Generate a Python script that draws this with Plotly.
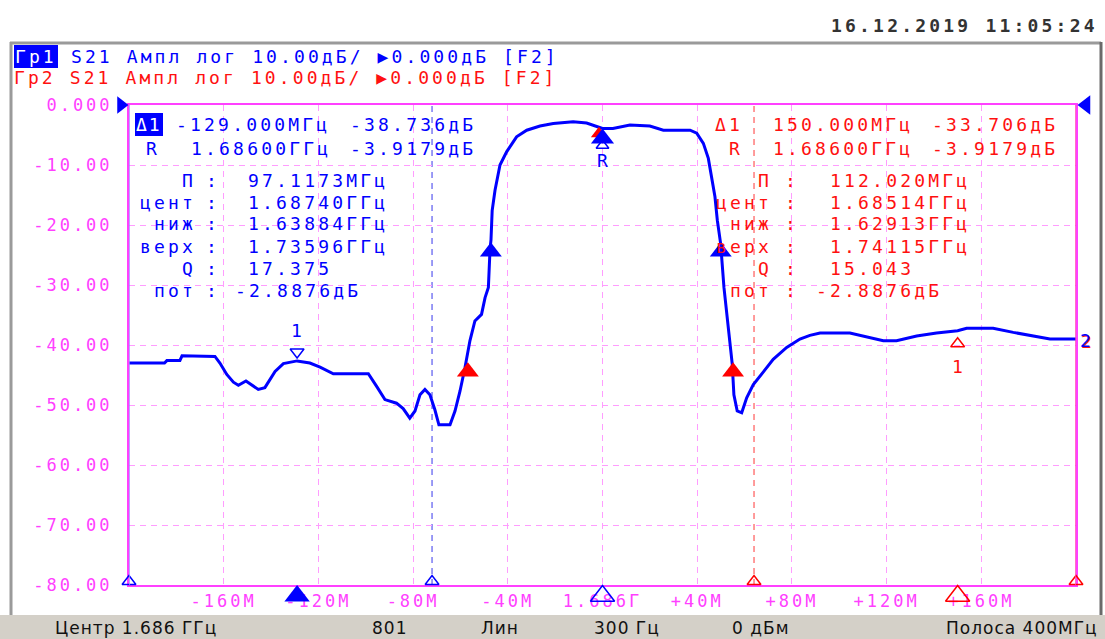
import plotly.graph_objects as go

# ---------------- data ----------------
freq_offset_mhz = [-200, -185, -184, -178.5, -177.6, -165.8, -163.7, -161.6, -158.7, -155.9,
                   -153.8, -150.6, -147.5, -145.4, -142.6, -140.4, -138.3, -134.8, -129.0, -123.6,
                   -119.3, -113.7, -98.9, -95.4, -91.9, -87.0, -84.2, -81.4, -79.2, -77.1,
                   -75.0, -72.9, -70.8, -69.1, -64.4, -62.3, -60.2, -58.1, -56.0, -53.9,
                   -51.1, -49.6, -48.2, -47.5, -47.1, -46.6, -45.4, -43.3, -40.5, -36.3,
                   -32.0, -26.4, -20.8, -12.4, -6.7, 0.0, 4.4, 11.6, 20.0, 25.7,
                   37.0, 39.8, 42.6, 44.7, 46.1, 47.5, 48.5, 49.9, 51.3, 53.2,
                   54.8, 55.5, 56.9, 58.8, 60.9, 63.7, 67.9, 72.1, 77.8, 83.4,
                   87.6, 91.9, 104.5, 111.6, 118.6, 124.2, 132.7, 141.1, 150.0, 153.8,
                   165.0, 173.5, 182.0, 189.0, 200.0]
s21_db = [-43.0, -43.0, -42.6, -42.6, -41.8, -41.8, -41.9, -43.0, -44.9, -46.2,
          -46.7, -46.0, -46.9, -47.4, -47.1, -45.7, -44.4, -43.1, -42.65, -43.0,
          -43.7, -44.8, -44.8, -46.9, -49.1, -49.7, -50.6, -52.2, -51.0, -48.3,
          -47.4, -48.3, -50.8, -53.3, -53.3, -51.0, -47.7, -43.8, -39.3, -36.0,
          -34.9, -32.1, -30.4, -24.0, -22.5, -17.6, -14.2, -10.0, -7.8, -5.3,
          -4.2, -3.5, -3.1, -2.8, -3.0, -3.92, -3.9, -3.35, -3.5, -4.2,
          -4.2, -4.7, -6.4, -8.9, -12.0, -15.3, -19.2, -23.1, -30.4, -37.1,
          -43.2, -48.3, -51.0, -51.3, -48.8, -46.6, -44.4, -42.4, -40.4, -39.0,
          -38.4, -38.0, -38.0, -38.6, -39.3, -39.3, -38.5, -38.0, -37.62, -37.2,
          -37.2, -37.9, -38.5, -39.0, -39.0]

x_tick_vals = [-160, -120, -80, -40, 0, 40, 80, 120, 160]
x_tick_text = ["-160M", "-120M", "-80M", "-40M", "1.686Г", "+40M", "+80M", "+120M", "+160M"]
y_tick_vals = [0, -10, -20, -30, -40, -50, -60, -70, -80]
y_tick_text = ["0.000", "-10.00", "-20.00", "-30.00", "-40.00", "-50.00", "-60.00", "-70.00", "-80.00"]

ref_mhz = 0.0
ref_db = -3.9179
ref_level_db = 0.0
blue_m1_mhz = -129.0
blue_m1_db = -3.9179 - 38.736
red_m1_mhz = 150.0
red_m1_db = -3.9179 - 33.706
blue_bw_mhz = [-47.16, 49.96]
blue_bw_db = -22.8876
red_bw_mhz = [-56.87, 55.15]
red_bw_db = -42.8876
blue_range_mhz = [-200, -72]
red_range_mhz = [64, 200]

header_1 = "S21 Ампл лог 10.00дБ/ ▶0.000дБ [F2]"
header_2 = "Гр2 S21 Ампл лог 10.00дБ/ ▶0.000дБ [F2]"
timestamp = "16.12.2019 11:05:24"
readout_labels = ["П", "цент", "ниж", "верх", "Q", "пот"]
blue_delta = ["-129.000МГц", "-38.736дБ"]
red_delta = ["150.000МГц", "-33.706дБ"]
ref_line = ["1.68600ГГц", "-3.9179дБ"]
blue_values = ["97.1173МГц", "1.68740ГГц", "1.63884ГГц", "1.73596ГГц", "17.375", "-2.8876дБ"]
red_values = ["112.020МГц", "1.68514ГГц", "1.62913ГГц", "1.74115ГГц", "15.043", "-2.8876дБ"]
status_items = ["Центр 1.686 ГГц", "801", "Лин", "300 Гц", "0 дБм", "Полоса 400МГц"]

# ---------------- geometry / style ----------------
W, H = 1105, 639
L, R, T, B = 129, 1076, 105, 585
MHZ_PX = (R - L) / 400.0
DB_PX = (B - T) / 80.0
BLUE = "#0000ff"
RED = "#ff1010"
MAG = "#ff40ff"
GRID = "#ff9cff"
MONO = "DejaVu Sans Mono"
SANS = "DejaVu Sans"


def px(x):
    return x / W


def py(y):
    return 1 - y / H


def sp(s, ls):
    return f'<span style="letter-spacing:{ls}px">{s}</span>'


annotations = []


def txt(x, y, s, color, anchor="left", size=18, ls=3.2, bg=None, family=MONO, bold=False, pad=0):
    t = sp(s, ls)
    if bold:
        t = "<b>" + t + "</b>"
    annotations.append(dict(x=px(x), y=py(y), xref="paper", yref="paper", text=t,
                            showarrow=False, xanchor=anchor, yanchor="middle",
                            font=dict(family=family, size=size, color=color),
                            bgcolor=bg, borderpad=pad, borderwidth=0))


fig = go.Figure()


def mk(x, y, symbol, size, color, filled=True, axes=("x", "y")):
    fig.add_trace(go.Scatter(
        x=x, y=y, mode="markers", xaxis=axes[0], yaxis=axes[1],
        marker=dict(symbol=symbol, size=size, color=color,
                    line=dict(width=0 if filled else 1.5, color=color)),
        showlegend=False, hoverinfo="skip", cliponaxis=False))


# main trace
fig.add_trace(go.Scatter(x=freq_offset_mhz, y=s21_db, mode="lines",
                         line=dict(color=BLUE, width=3), hoverinfo="skip", showlegend=False))


def tri_off(size):
    return (size / 2.0) / DB_PX


# bandwidth markers (apex on the trace)
mk(red_bw_mhz, [red_bw_db - tri_off(19)] * 2, "triangle-up", 19, "#ff0000")
mk(blue_bw_mhz, [blue_bw_db - tri_off(19)] * 2, "triangle-up", 19, BLUE)
# reference marker R
mk([ref_mhz - 1.5], [ref_db + 0.3 - tri_off(14)], "triangle-up", 14, "#ff0000")
mk([ref_mhz], [ref_db - tri_off(20)], "triangle-up", 20, BLUE)
mk([ref_mhz], [ref_db - 17 / DB_PX], "triangle-up-open", 11, BLUE, filled=False)
# marker 1 (blue) above trace, marker 1 (red) below trace
mk([blue_m1_mhz], [blue_m1_db + 9 / DB_PX], "triangle-down-open", 12, BLUE, filled=False)
mk([red_m1_mhz], [red_m1_db - 13 / DB_PX], "triangle-up-open", 12, "#ff0000", filled=False)
# search range ticks on the bottom line
mk(blue_range_mhz, [-80 + 3.5 / DB_PX] * 2, "triangle-up-open", 12, BLUE, filled=False)
mk(red_range_mhz, [-80 + 3.5 / DB_PX] * 2, "triangle-up-open", 12, "#ff0000", filled=False)

# overlay axes (same MHz / dB scale, extended over the whole figure) for indicators outside the grid
OV = ("x2", "y2")
mk([blue_m1_mhz], [-80 - 11 / DB_PX], "triangle-up", 22, BLUE, axes=OV)
mk([ref_mhz], [-80 - 11 / DB_PX], "triangle-up-open", 21, BLUE, filled=False, axes=OV)
mk([red_m1_mhz], [-80 - 11 / DB_PX], "triangle-up-open", 21, "#ff0000", filled=False, axes=OV)
mk([-200 - 8 / MHZ_PX], [ref_level_db], "triangle-right", 15, BLUE, axes=OV)
mk([200 + 10 / MHZ_PX], [ref_level_db], "triangle-left", 17, BLUE, axes=OV)

# ---------------- shapes ----------------
shapes = []
shapes.append(dict(type="rect", xref="paper", yref="paper", x0=px(0), x1=px(1105), y0=py(615), y1=py(640),
                   fillcolor="#d4d0c8", line=dict(width=0), layer="below"))
shapes.append(dict(type="line", xref="paper", yref="paper", x0=px(10), x1=px(1101), y0=py(43), y1=py(43),
                   line=dict(color="#9a9a9a", width=3)))
shapes.append(dict(type="line", xref="paper", yref="paper", x0=px(11), x1=px(11), y0=py(42), y1=py(615),
                   line=dict(color="#9a9a9a", width=3)))
shapes.append(dict(type="line", xref="paper", yref="paper", x0=px(1101), x1=px(1101), y0=py(42), y1=py(615),
                   line=dict(color="#6a6a6a", width=3)))
# search range lines
shapes.append(dict(type="line", xref="x", yref="y", x0=blue_range_mhz[1], x1=blue_range_mhz[1], y0=-80, y1=0,
                   line=dict(color="#5a5af0", width=1.2, dash="6px,5px"), layer="below"))
shapes.append(dict(type="line", xref="x", yref="y", x0=red_range_mhz[0], x1=red_range_mhz[0], y0=-80, y1=0,
                   line=dict(color="#ff5a5a", width=1.2, dash="6px,5px"), layer="below"))
shapes.append(dict(type="line", xref="x", yref="y", x0=blue_range_mhz[0], x1=blue_range_mhz[0], y0=-80, y1=0,
                   line=dict(color="#9c8cff", width=1.5), layer="above"))
shapes.append(dict(type="line", xref="x", yref="y", x0=red_range_mhz[1], x1=red_range_mhz[1], y0=-80, y1=0,
                   line=dict(color="#ff40b0", width=1.5), layer="above"))

# ---------------- texts ----------------
txt(1098, 25, timestamp, "#333333", anchor="right", size=18, ls=3.2, bold=True)
txt(14, 56, "Гр1", "#ffffff", bg=BLUE, ls=3.1, pad=1)
txt(71, 56, header_1, BLUE, ls=3.1)
txt(14, 78, header_2, RED, ls=3.1)

txt(135, 124, "Δ1", "#ffffff", bg=BLUE, ls=2.0, pad=1)
txt(176, 124, blue_delta[0], BLUE)
txt(350, 124, blue_delta[1], BLUE)
txt(146, 148, "R", BLUE)
txt(191, 148, ref_line[0], BLUE)
txt(350, 148, ref_line[1], BLUE)

txt(715, 124, "Δ1", RED)
txt(773, 124, red_delta[0], RED)
txt(932, 124, red_delta[1], RED)
txt(729, 148, "R", RED)
txt(773, 148, ref_line[0], RED)
txt(932, 148, ref_line[1], RED)

rows_y = [180, 202, 224, 246, 268, 290]
for lab, bv, rv, yy in zip(readout_labels, blue_values, red_values, rows_y):
    txt(196, yy, lab, BLUE, anchor="right")
    txt(211, yy, ":", BLUE, anchor="center", ls=0)
    txt(248 - (13 if bv.startswith("-") else 0), yy, bv, BLUE)
    txt(772, yy, lab, RED, anchor="right")
    txt(790, yy, ":", RED, anchor="center", ls=0)
    txt(830 - (14 if rv.startswith("-") else 0), yy, rv, RED)

txt(296, 330, "1", BLUE, anchor="center", ls=0)
txt(602, 160, "R", BLUE, anchor="center", ls=0)
txt(957, 366, "1", RED, anchor="center", ls=0)
txt(1081, 341, "2", RED, anchor="left", ls=0)
txt(1080, 340, "2", BLUE, anchor="left", ls=0)

status_pos = [(55, "left"), (389, "center"), (500, "center"), (627, "center"), (760, "center"), (1098, "right")]
for s, (xx, anc) in zip(status_items, status_pos):
    txt(xx, 628, s, "#111111", anchor=anc, size=17, ls=1.0, family=SANS)

axis_font = dict(family=MONO, size=17, color=MAG)
x_lo = -200 - L / MHZ_PX
x_hi = 200 + (W - R) / MHZ_PX
y_lo = -80 - (H - B) / DB_PX
y_hi = 0 + T / DB_PX

fig.update_layout(
    width=W, height=H, autosize=False,
    margin=dict(l=0, r=0, t=0, b=0, pad=0, autoexpand=False),
    paper_bgcolor="#ffffff", plot_bgcolor="rgba(0,0,0,0)",
    showlegend=False,
    shapes=shapes, annotations=annotations,
    xaxis=dict(domain=[L / W, R / W], range=[-200, 200], tickvals=x_tick_vals,
               ticktext=[sp(t, 3.0) for t in x_tick_text], automargin=False,
               showgrid=True, gridcolor=GRID, gridwidth=1, griddash="6px,5px", zeroline=False,
               showline=True, linecolor=MAG, linewidth=2, mirror=True, ticks="",
               tickfont=axis_font, ticklabelstandoff=0, layer="below traces", fixedrange=True),
    yaxis=dict(domain=[1 - B / H, 1 - T / H], range=[-80, 0], tickvals=y_tick_vals,
               ticktext=[sp(t, 3.0) for t in y_tick_text], automargin=False,
               showgrid=True, gridcolor=GRID, gridwidth=1, griddash="6px,5px", zeroline=False,
               showline=True, linecolor=MAG, linewidth=2, mirror=True, ticks="",
               tickfont=axis_font, ticklabelstandoff=11, layer="below traces", fixedrange=True),
    xaxis2=dict(domain=[0, 1], range=[x_lo, x_hi], visible=False, anchor="y2", fixedrange=True,
                automargin=False),
    yaxis2=dict(domain=[0, 1], range=[y_lo, y_hi], visible=False, anchor="x2", fixedrange=True,
                automargin=False),
)

fig.write_html("out.html", config={"displayModeBar": False},
               post_script="document.body.style.margin='0px';document.body.style.overflow='hidden';")
